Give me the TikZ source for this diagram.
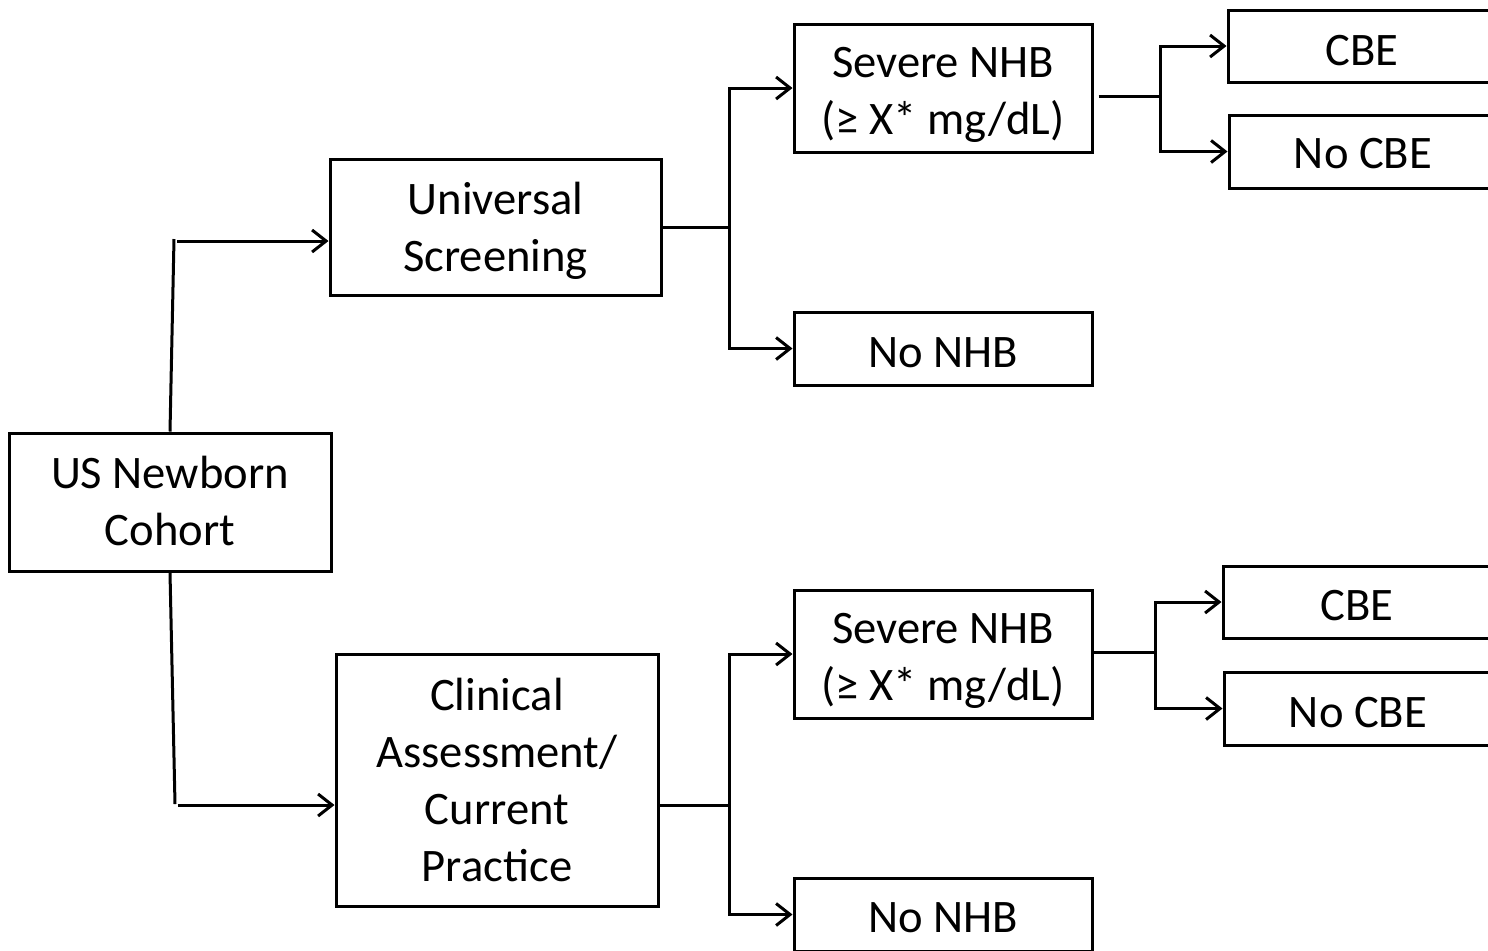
\documentclass[tikz,border=0pt]{standalone}
\usepackage{fontspec}
\setmainfont{Carlito}
\usetikzlibrary{arrows.meta}
\begin{document}
\begin{tikzpicture}[x=0.5pt,y=-0.5pt,
  box/.style={draw,line width=1.5pt,align=center,inner sep=0pt,
    font=\fontsize{23.3pt}{28.5pt}\selectfont},
  bl/.style={text height=#1,text depth=0pt},
  link/.style={line width=1.5pt},
  arr/.style={line width=1.5pt,-{Straight Barb[length=7pt,width=11pt,line width=1.5pt]}}]
\clip (0,0) rectangle (1488,950);
\fill[white] (0,0) rectangle (1488,950);
% nodes
\node[box,bl=43pt,minimum width=161pt,minimum height=69pt] (cohort) at (170,502) {US Newborn\\Cohort};
\node[box,bl=44pt,minimum width=165.5pt,minimum height=68pt] (univ) at (495.5,227) {Universal\\Screening};
\node[box,bl=101pt,minimum width=161pt,minimum height=126pt] (clin) at (497,780) {Clinical\\Assessment/\\Current\\Practice};
\node[box,bl=46pt,minimum width=149pt,minimum height=64pt] (sev1) at (943,88) {Severe NHB\\(≥ X* mg/dL)};
\node[box,bl=18.5pt,minimum width=149pt,minimum height=36.5pt] (nonhb1) at (943,348.5) {No NHB};
\node[box,bl=46pt,minimum width=149pt,minimum height=64pt] (sev2) at (943,654) {Severe NHB\\(≥ X* mg/dL)};
\node[box,bl=17.5pt,minimum width=149pt,minimum height=36.5pt] (nonhb2) at (943,914.5) {No NHB};
\node[box,bl=19pt,minimum width=134pt,minimum height=36pt] (cbe1) at (1362,46) {CBE};
\node[box,bl=16.5pt,minimum width=134pt,minimum height=36.5pt] (nocbe1) at (1363,151.5) {No CBE};
\node[box,bl=18pt,minimum width=134pt,minimum height=36pt] (cbe2) at (1357,602) {CBE};
\node[box,bl=18.5pt,minimum width=134pt,minimum height=36.5pt] (nocbe2) at (1358,708.5) {No CBE};
% junction coordinates
\coordinate (t1) at (174,239);
\coordinate (t1h) at (177,241);
\coordinate (b1) at (175,804);
\coordinate (b1h) at (178,805);
\coordinate (j1) at (729,227);
\coordinate (j2) at (1160,96);
\coordinate (j3) at (729,805);
\coordinate (j4) at (1155,652);
% connectors
\draw[link] (cohort.north) -- (t1);
\draw[arr] (t1h) -- (univ.west |- t1h);
\draw[link] (cohort.south) -- (b1);
\draw[arr] (b1h) -- (clin.west |- b1h);
\draw[link] (univ.east) -- (j1);
\draw[arr] (j1) |- (sev1.west);
\draw[arr] (j1) |- (nonhb1.west);
\draw[link] ([xshift=2.5pt]sev1.east |- j2) -- (j2);
\draw[arr] (j2) |- (cbe1.west);
\draw[arr] (j2) |- (nocbe1.west);
\draw[link] (clin.east |- j3) -- (j3);
\draw[arr] (j3) |- (sev2.west);
\draw[arr] (j3) |- (nonhb2.west);
\draw[link] (sev2.east |- j4) -- (j4);
\draw[arr] (j4) |- (cbe2.west);
\draw[arr] (j4) |- (nocbe2.west);
\end{tikzpicture}
\end{document}
